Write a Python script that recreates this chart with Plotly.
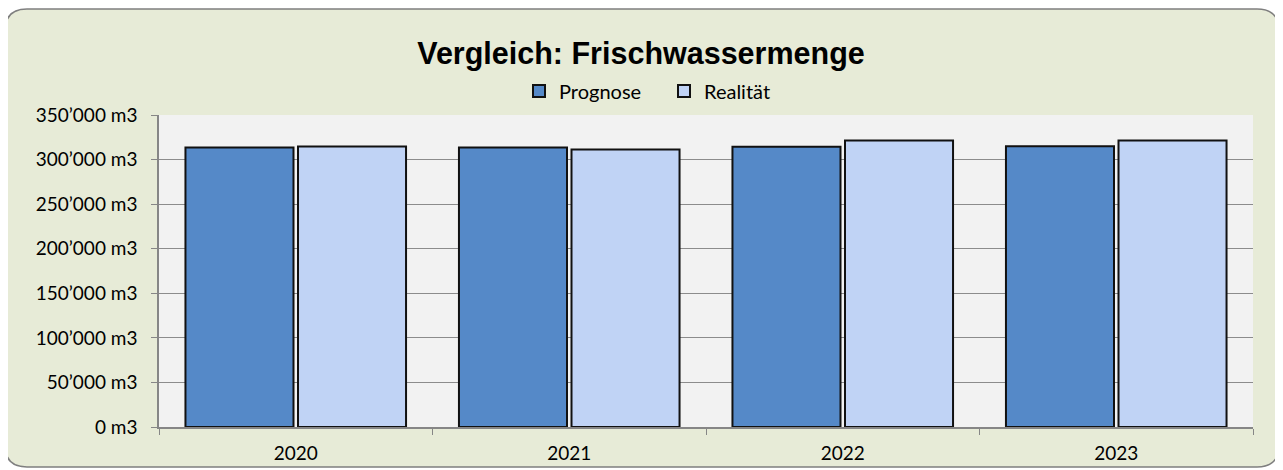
import plotly.graph_objects as go

# data
years = ["2020", "2021", "2022", "2023"]
prognose = [313500, 313500, 314500, 315000]
realitaet = [314600, 311200, 321300, 321300]
y_tickvals = [0, 50000, 100000, 150000, 200000, 250000, 300000, 350000]
y_ticktext = ["0 m3", "50’000 m3", "100’000 m3", "150’000 m3", "200’000 m3",
              "250’000 m3", "300’000 m3", "350’000 m3"]

OFF = 8  # page body margin, figure starts at (8, 8) in the window
W, H = 1283 - OFF, 470 - OFF
ML, MT = 159 - OFF, 115 - OFF
MR, MB = W - (1253 - OFF), H - (427 - OFF)
pw, ph = W - ML - MR, H - MT - MB


def px(x, y):
    # window pixels -> paper coordinates
    return (x - OFF - ML) / pw, (H - MB - (y - OFF)) / ph


def rounded_path(x0, y0, x1, y1, r):
    def p(x, y):
        a, b = px(x, y)
        return f"{a:.5f},{b:.5f}"
    pts = [
        "M " + p(x0 + r, y0),
        "L " + p(x1 - r, y0),
        "Q " + p(x1, y0) + " " + p(x1, y0 + r),
        "L " + p(x1, y1 - r),
        "Q " + p(x1, y1) + " " + p(x1 - r, y1),
        "L " + p(x0 + r, y1),
        "Q " + p(x0, y1) + " " + p(x0, y1 - r),
        "L " + p(x0, y0 + r),
        "Q " + p(x0, y0) + " " + p(x0 + r, y0),
    ]
    return " ".join(pts) + " Z"


fig = go.Figure()
fig.add_trace(go.Bar(x=years, y=prognose, name="Prognose",
                     marker=dict(color="#5589C8", line=dict(color="#111111", width=2))))
fig.add_trace(go.Bar(x=years, y=realitaet, name="Realität",
                     marker=dict(color="#C0D3F5", line=dict(color="#111111", width=2))))

fig.add_shape(type="path", xref="paper", yref="paper", layer="below",
              path=rounded_path(5, 9, 1279, 467, 22),
              fillcolor="#E7EBD7", line=dict(color="#7F7F7F", width=1.5))
fig.add_shape(type="rect", xref="paper", yref="paper", layer="below",
              x0=0, x1=1, y0=0, y1=1, fillcolor="#F2F2F2", line=dict(width=0))

fig.update_layout(
    width=W, height=H,
    margin=dict(l=ML, r=MR, t=MT, b=MB, autoexpand=False),
    paper_bgcolor="white",
    plot_bgcolor="rgba(0,0,0,0)",
    font=dict(family="Lato, Noto Sans, sans-serif", size=19, color="#000000"),
    title=dict(text="<b>Vergleich: Frischwassermenge</b>", xref="container",
               x=(641 - OFF) / W, xanchor="center", yref="container",
               y=1 - (53 - OFF) / H, yanchor="middle",
               font=dict(family="Liberation Sans, Arial, sans-serif", size=30.5, color="#000000")),
    legend=dict(orientation="h", xref="container", x=(664 - OFF) / W, xanchor="center",
                yref="container", y=1 - (91 - OFF) / H, yanchor="middle",
                font=dict(size=20), entrywidth=100, itemwidth=30,
                bgcolor="rgba(0,0,0,0)"),
    bargap=0.177, bargroupgap=0.04,
    showlegend=True,
)
fig.update_xaxes(showline=True, linecolor="#868686", linewidth=1.5,
                 ticks="outside", tickson="boundaries", ticklen=6, tickcolor="#868686",
                 ticklabelstandoff=8,
                 showgrid=False, automargin=False)
fig.update_yaxes(range=[0, 350000], tickvals=y_tickvals, ticktext=y_ticktext,
                 showline=True, linecolor="#868686", linewidth=1.5,
                 ticks="outside", ticklen=6, tickcolor="#868686",
                 ticklabelstandoff=10,
                 showgrid=True, gridcolor="#8C8C8C", gridwidth=1,
                 zeroline=False, automargin=False)

fig.write_html("out.html")
